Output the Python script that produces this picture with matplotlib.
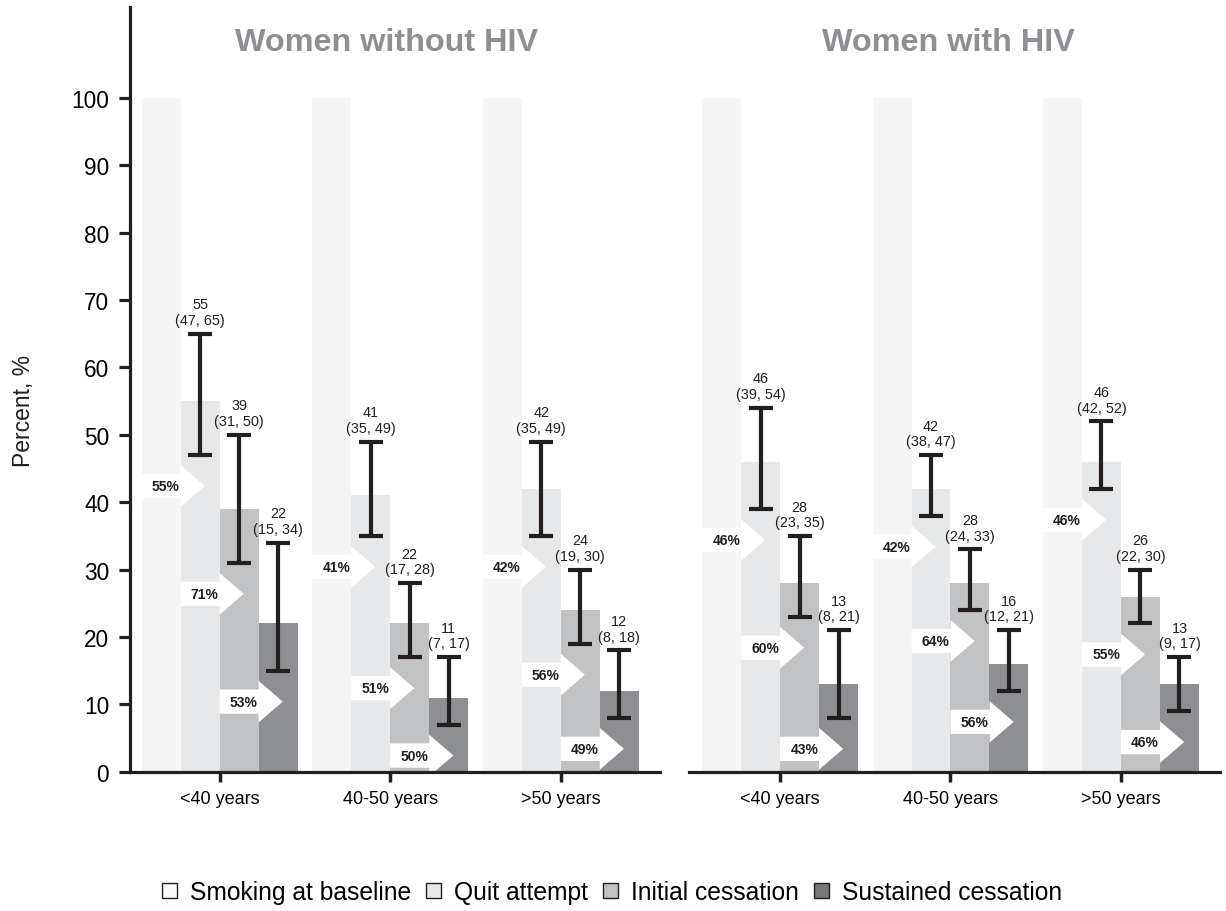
import matplotlib
matplotlib.use("Agg")
import matplotlib.pyplot as plt
from matplotlib.patches import Polygon, Patch

plt.rcParams.update({"font.family": "Liberation Sans"})

age_groups = ["<40 years", "40-50 years", ">50 years"]
stages = ["Smoking at baseline", "Quit attempt", "Initial cessation", "Sustained cessation"]
baseline = 100

# per age group: quit attempt, initial cessation, sustained cessation (%, 95% CI)
noHIV_est = [[55, 39, 22], [41, 22, 11], [42, 24, 12]]
noHIV_lo = [[47, 31, 15], [35, 17, 7], [35, 19, 8]]
noHIV_hi = [[65, 50, 34], [49, 28, 17], [49, 30, 18]]
noHIV_step = [[55, 71, 53], [41, 51, 50], [42, 56, 49]]   # % moving on to next stage

HIV_est = [[46, 28, 13], [42, 28, 16], [46, 26, 13]]
HIV_lo = [[39, 23, 8], [38, 24, 12], [42, 22, 9]]
HIV_hi = [[54, 35, 21], [47, 33, 21], [52, 30, 17]]
HIV_step = [[46, 60, 43], [42, 64, 56], [46, 55, 46]]

COLORS = ["#f5f5f5", "#e7e8e9", "#c1c2c4", "#8e8f92"]
INK = "#231f20"
TITLE_GREY = "#8e8f92"

W = 0.2287
OFFS = [-1.5 * W, -0.5 * W, 0.5 * W, 1.5 * W]


def draw_arrow(ax, x0, yc, text):
    # white block arrow: body spans one bar, head pokes into the next
    x1 = x0 + W
    bh, hh, hl = 1.8, 3.1, 0.62 * W
    pts = [(x0, yc - bh), (x1, yc - bh), (x1, yc - hh), (x1 + hl, yc),
           (x1, yc + hh), (x1, yc + bh), (x0, yc + bh)]
    ax.add_patch(Polygon(pts, closed=True, facecolor="white", edgecolor="none", zorder=2))
    ax.text(x0 + 0.62 * W, yc, text, ha="center", va="center", fontsize=10,
            fontweight="bold", color=INK, zorder=3)


def panel(ax, est, lo, hi, step):
    for g in range(len(age_groups)):
        vals = [baseline] + est[g]
        for k in range(4):
            ax.bar(g + OFFS[k], vals[k], W, color=COLORS[k], linewidth=0, zorder=1)
        for k in range(3):
            x = g + OFFS[k + 1]
            ax.errorbar(x, est[g][k],
                        yerr=[[est[g][k] - lo[g][k]], [hi[g][k] - est[g][k]]],
                        fmt="none", ecolor=INK, elinewidth=3.0, capsize=8.6,
                        capthick=3.0, zorder=4)
            ax.text(x, hi[g][k] + 1.0, f"{est[g][k]}\n({lo[g][k]}, {hi[g][k]})",
                    ha="center", va="bottom", fontsize=10.4, linespacing=1.15,
                    color=INK, zorder=5)
            draw_arrow(ax, g + OFFS[k] - W / 2, lo[g][k] - 4.6, f"{step[g][k]}%")

    ax.set_ylim(0, 113.5)
    ax.set_xticks(range(len(age_groups)))
    ax.set_xticklabels(age_groups, fontsize=13)
    ax.tick_params(axis="x", length=7, width=2.5, color=INK, pad=6)
    for s in ("top", "right"):
        ax.spines[s].set_visible(False)
    for s in ("left", "bottom"):
        ax.spines[s].set_linewidth(2.3)
        ax.spines[s].set_color(INK)


fig = plt.figure(figsize=(12.26, 9.12), dpi=100)
bottom, height = 1 - 772.7 / 912, (772.7 - 8) / 912
ax1 = fig.add_axes([130 / 1226, bottom, 530 / 1226, height])
ax2 = fig.add_axes([689 / 1226, bottom, 531 / 1226, height])

panel(ax1, noHIV_est, noHIV_lo, noHIV_hi, noHIV_step)
panel(ax2, HIV_est, HIV_lo, HIV_hi, HIV_step)

ax1.set_xlim(-0.525, 2.582)
ax2.set_xlim(-0.534, 2.581)

ax1.set_yticks(range(0, 101, 10))
ax1.tick_params(axis="y", labelsize=16.3, length=8, width=2.3, color=INK, pad=7)
ax2.spines["left"].set_visible(False)
ax2.set_yticks([])

fig.text(24 / 1226, 1 - 411 / 912, "Percent, %", rotation=90, ha="center",
         va="center", fontsize=16.5, color=INK)
fig.text(387 / 1226, 1 - 43 / 912, "Women without HIV", ha="center", va="center",
         fontsize=23.3, fontweight="bold", color=TITLE_GREY)
fig.text(948 / 1226, 1 - 43 / 912, "Women with HIV", ha="center", va="center",
         fontsize=23.3, fontweight="bold", color=TITLE_GREY)

legend_colors = ["#f8f8f8", "#e7e8e9", "#c1c2c4", "#77787b"]
handles = [Patch(facecolor=c, edgecolor=INK, linewidth=1) for c in legend_colors]
fig.legend(handles, stages, loc="center", bbox_to_anchor=(612 / 1226, 1 - 893 / 912),
           ncol=4, frameon=False, fontsize=17.7, handlelength=0.6, handleheight=0.6,
           handletextpad=0.55, columnspacing=0.6, borderaxespad=0)

fig.savefig("out.png", dpi=100)
